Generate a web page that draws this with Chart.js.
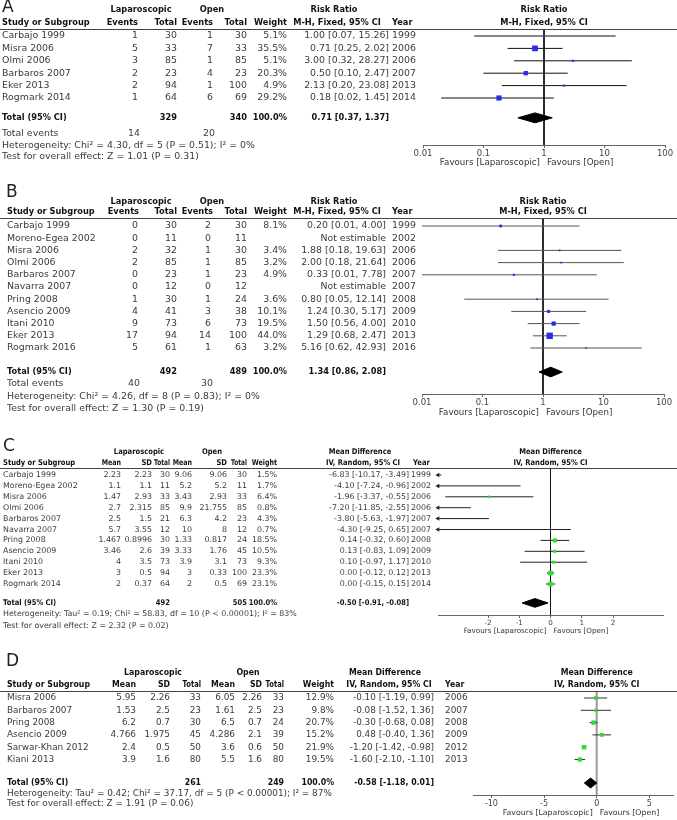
<!DOCTYPE html>
<html>
<head>
<meta charset="utf-8">
<script src="https://cdn.jsdelivr.net/npm/chart.js@4/dist/chart.umd.min.js"></script>
<style>
  body { margin: 0; background: #fff; width: 677px; height: 820px; position: relative; overflow: hidden; }
  canvas { position: absolute; left: 0; }
</style>
</head>
<body>
<canvas id="panelA" width="677" height="172" style="top:0px"></canvas>
<canvas id="panelB" width="677" height="246" style="top:178px"></canvas>
<canvas id="panelC" width="677" height="200" style="top:436px"></canvas>
<canvas id="panelD" width="677" height="170" style="top:650px"></canvas>
<script>
// ---- A: 위험비 (Risk Ratio, M-H fixed) ----
const aStudies = ['Carbajo 1999', 'Misra 2006', 'Olmi 2006', 'Barbaros 2007', 'Eker 2013', 'Rogmark 2014']
const aLapEvents = [1, 5, 3, 2, 2, 1]
const aLapTotal = [30, 33, 85, 23, 94, 64]
const aOpenEvents = [1, 7, 1, 4, 1, 6]
const aOpenTotal = [30, 33, 85, 23, 100, 69]
const aWeight = [5.1, 35.5, 5.1, 20.3, 4.9, 29.2]
const aEst = [1.00, 0.71, 3.00, 0.50, 2.13, 0.18]
const aLo = [0.07, 0.25, 0.32, 0.10, 0.20, 0.02]
const aHi = [15.26, 2.02, 28.27, 2.47, 23.08, 1.45]
const aYear = [1999, 2006, 2006, 2007, 2013, 2014]
const aTotals = [329, 340]
const aTotalEvents = [14, 20]
const aPooled = [0.71, 0.37, 1.37]
const aHetero = 'Heterogeneity: Chi² = 4.30, df = 5 (P = 0.51); I² = 0%'
const aTest = 'Test for overall effect: Z = 1.01 (P = 0.31)'

// ---- B ----
const bStudies = ['Carbajo 1999', 'Moreno-Egea 2002', 'Misra 2006', 'Olmi 2006', 'Barbaros 2007', 'Navarra 2007',
  'Pring 2008', 'Asencio 2009', 'Itani 2010', 'Eker 2013', 'Rogmark 2016']
const bLapEvents = [0, 0, 2, 2, 0, 0, 1, 4, 9, 17, 5]
const bLapTotal = [30, 11, 32, 85, 23, 12, 30, 41, 73, 94, 61]
const bOpenEvents = [2, 0, 1, 1, 1, 0, 1, 3, 6, 14, 1]
const bOpenTotal = [30, 11, 30, 85, 23, 12, 24, 38, 73, 100, 63]
const bWeight = [8.1, null, 3.4, 3.2, 4.9, null, 3.6, 10.1, 19.5, 44.0, 3.2]
const bEst = [0.20, null, 1.88, 2.00, 0.33, null, 0.80, 1.24, 1.50, 1.29, 5.16]
const bLo = [0.01, null, 0.18, 0.18, 0.01, null, 0.05, 0.30, 0.56, 0.68, 0.62]
const bHi = [4.00, null, 19.63, 21.64, 7.78, null, 12.14, 5.17, 4.00, 2.47, 42.93]
const bYear = [1999, 2002, 2006, 2006, 2007, 2007, 2008, 2009, 2010, 2013, 2016]
const bTotals = [492, 489]
const bTotalEvents = [40, 30]
const bPooled = [1.34, 0.86, 2.08]
const bHetero = 'Heterogeneity: Chi² = 4.26, df = 8 (P = 0.83); I² = 0%'
const bTest = 'Test for overall effect: Z = 1.30 (P = 0.19)'

const rrTicks = [0.01, 0.1, 1, 10, 100]

// ---- C: 평균차 (Mean Difference, IV random) ----
const cStudies = ['Carbajo 1999', 'Moreno-Egea 2002', 'Misra 2006', 'Olmi 2006', 'Barbaros 2007', 'Navarra 2007',
  'Pring 2008', 'Asencio 2009', 'Itani 2010', 'Eker 2013', 'Rogmark 2014']
const cLapMean = [2.23, 1.1, 1.47, 2.7, 2.5, 5.7, 1.467, 3.46, 4, 3, 2]
const cLapSD = [2.23, 1.1, 2.93, 2.315, 1.5, 3.55, 0.8996, 2.6, 3.5, 0.5, 0.37]
const cLapTotal = [30, 11, 33, 85, 21, 12, 30, 39, 73, 94, 64]
const cOpenMean = [9.06, 5.2, 3.43, 9.9, 6.3, 10, 1.33, 3.33, 3.9, 3, 2]
const cOpenSD = [9.06, 5.2, 2.93, 21.755, 4.2, 8, 0.817, 1.76, 3.1, 0.33, 0.5]
const cOpenTotal = [30, 11, 33, 85, 23, 12, 24, 45, 73, 100, 69]
const cWeight = [1.5, 1.7, 6.4, 0.8, 4.3, 0.7, 18.5, 10.5, 9.3, 23.3, 23.1]
const cEst = [-6.83, -4.10, -1.96, -7.20, -3.80, -4.30, 0.14, 0.13, 0.10, 0.00, 0.00]
const cLo = [-10.17, -7.24, -3.37, -11.85, -5.63, -9.25, -0.32, -0.83, -0.97, -0.12, -0.15]
const cHi = [-3.49, -0.96, -0.55, -2.55, -1.97, 0.65, 0.60, 1.09, 1.17, 0.12, 0.15]
const cYear = [1999, 2002, 2006, 2006, 2007, 2007, 2008, 2009, 2010, 2013, 2014]
const cTotals = [492, 505]
const cPooled = [-0.50, -0.91, -0.08]
const cHetero = 'Heterogeneity: Tau² = 0.19; Chi² = 58.83, df = 10 (P < 0.00001); I² = 83%'
const cTest = 'Test for overall effect: Z = 2.32 (P = 0.02)'
const cTicks = [-2, -1, 0, 1, 2]

// ---- D ----
const dStudies = ['Misra 2006', 'Barbaros 2007', 'Pring 2008', 'Asencio 2009', 'Sarwar-Khan 2012', 'Kiani 2013']
const dLapMean = [5.95, 1.53, 6.2, 4.766, 2.4, 3.9]
const dLapSD = [2.26, 2.5, 0.7, 1.975, 0.5, 1.6]
const dLapTotal = [33, 23, 30, 45, 50, 80]
const dOpenMean = [6.05, 1.61, 6.5, 4.286, 3.6, 5.5]
const dOpenSD = [2.26, 2.5, 0.7, 2.1, 0.6, 1.6]
const dOpenTotal = [33, 23, 24, 39, 50, 80]
const dWeight = [12.9, 9.8, 20.7, 15.2, 21.9, 19.5]
const dEst = [-0.10, -0.08, -0.30, 0.48, -1.20, -1.60]
const dLo = [-1.19, -1.52, -0.68, -0.40, -1.42, -2.10]
const dHi = [0.99, 1.36, 0.08, 1.36, -0.98, -1.10]
const dYear = [2006, 2007, 2008, 2009, 2012, 2013]
const dTotals = [261, 249]
const dPooled = [-0.58, -1.18, 0.01]
const dHetero = 'Heterogeneity: Tau² = 0.42; Chi² = 37.17, df = 5 (P < 0.00001); I² = 87%'
const dTest = 'Test for overall effect: Z = 1.91 (P = 0.06)'
const dTicks = [-10, -5, 0, 5]

const FONT = '"DejaVu Sans", Verdana, sans-serif'
const W = 677
Chart.defaults.font.family = FONT

const f2 = v => v.toFixed(2)
const ciText = (e, lo, hi) => `${f2(e)} [${f2(lo)}, ${f2(hi)}]`
const pct = w => w.toFixed(1) + '%'

// 굵은 글씨는 원본 폰트보다 넓어서 가로로 조금 줄여서 그림
function txt(ctx, s, x, y, align, size, bold, color, squeeze) {
  const k = squeeze || 1
  ctx.font = `${bold ? 'bold ' : ''}${size}px ${FONT}`
  ctx.textAlign = align
  ctx.fillStyle = color || (bold ? '#111' : '#3b3b3b')
  ctx.save()
  ctx.translate(x, y)
  ctx.scale(k, 1)
  ctx.fillText(String(s), 0, 0)
  ctx.restore()
}

// 표 부분(텍스트)은 y 스케일을 기준으로 그림 → 행 위치가 마커와 맞음
function drawTable(chart, p) {
  const ctx = chart.ctx
  const yAt = v => chart.scales.y.getPixelForValue(v)
  const refX = chart.scales.x.getPixelForValue(p.ref)
  const area = chart.chartArea
  const hb = (s, x, row, al, k) => txt(ctx, s, x, yAt(row), al, p.fb, true, null, k || p.kb)
  ctx.save()
  ctx.textBaseline = 'middle'
  txt(ctx, p.letter, p.letterX, yAt(p.letterRow), 'left', 17, false, '#222')
  p.head1.forEach(([s, x, al, k]) => hb(s, x, p.head1Row, al, k))
  p.head2.forEach(([s, x, al, k]) => hb(s, x, p.head2Row, al, k))
  hb(p.forestHead[0], refX, p.head1Row, 'center')
  hb(p.forestHead[1], refX, p.head2Row, 'center')

  ctx.strokeStyle = '#444'
  ctx.lineWidth = 1.2
  ctx.beginPath()
  ctx.moveTo(0, area.top + 0.5)
  ctx.lineTo(W, area.top + 0.5)
  ctx.stroke()

  p.rows.forEach((cells, i) => {
    cells.forEach((c, j) => txt(ctx, c, p.cols[j][0], yAt(i), p.cols[j][1], p.fs, false))
  })
  p.totalCells.forEach((c, j) => {
    if (c !== '') hb(c, p.cols[j][0], p.totalRow, p.cols[j][1])
  })
  if (p.eventsCells) {
    p.eventsCells.forEach((c, j) => {
      if (c !== '') txt(ctx, c, p.cols[j][0] + (j ? 2 : 0), yAt(p.eventsRow), p.cols[j][1], p.fs, false)
    })
  }
  p.footers.forEach(([s, row]) => txt(ctx, s, p.cols[0][0], yAt(row), 'left', p.fs, false))

  const fy = area.bottom + p.favDy
  txt(ctx, 'Favours [Laparoscopic]', refX - 4, fy, 'right', p.ff, false, '#333')
  txt(ctx, 'Favours [Open]', refX + 3, fy, 'left', p.ff, false, '#333')
  ctx.restore()
}

function buildPanel(id, p) {
  const canvas = document.getElementById(id)
  const H = canvas.height
  const top = p.top
  const chartTop = p.ruleY - top
  const chartBottom = p.axisY - top
  const y0 = p.firstRowY - top
  const yMin = (chartTop - y0) / p.step
  const yMax = (chartBottom - y0) / p.step
  const clipX = { left: 0, right: 0, top: false, bottom: false }

  const datasets = []
  // 점추정 사각형 (가중치에 비례)
  datasets.push({
    type: 'line', showLine: false,
    data: p.est.map((e, i) => e === null ? null : { x: e, y: i, w: p.weight[i] }).filter(Boolean),
    pointStyle: 'rect',
    pointRadius: c => c.raw ? Math.sqrt(c.raw.w) * 0.68 : 2,
    backgroundColor: p.markColor, borderWidth: 0, clip: clipX,
  })
  // 범위 밖 신뢰구간 화살표
  const arrows = []
  p.est.forEach((e, i) => {
    if (e !== null && p.lo[i] < p.xMin) arrows.push({ x: p.xMin, y: i })
  })
  if (arrows.length) {
    datasets.push({
      type: 'line', showLine: false, data: arrows,
      pointStyle: 'triangle', rotation: -90, pointRadius: 2.6,
      backgroundColor: p.lineColor, borderColor: p.lineColor, borderWidth: 0, clip: false,
    })
  }
  // 신뢰구간
  p.est.forEach((e, i) => {
    if (e === null) return
    datasets.push({
      type: 'line', data: [{ x: p.lo[i], y: i }, { x: p.hi[i], y: i }],
      borderColor: p.lineColor, borderWidth: 1, pointRadius: 0, clip: clipX,
    })
  })
  // 합계 다이아몬드
  const [pe, pl, ph] = p.pooled
  const tr = p.totalRow
  datasets.push({
    type: 'line',
    data: [{ x: pl, y: tr }, { x: pe, y: tr - 0.4 }, { x: ph, y: tr }, { x: pe, y: tr + 0.4 }, { x: pl, y: tr }],
    borderColor: '#000', backgroundColor: '#000', borderWidth: 1, pointRadius: 0, fill: 'shape', clip: false,
  })
  // 기준선 (효과 없음)
  datasets.push({
    type: 'line', data: [{ x: p.ref, y: yMin }, { x: p.ref, y: yMax }],
    borderColor: p.refColor, borderWidth: p.refWidth, pointRadius: 0, clip: false,
  })

  return new Chart(canvas, {
    type: 'line',
    data: { datasets },
    options: {
      responsive: false,
      devicePixelRatio: 1,
      animation: false,
      events: [],
      layout: { padding: { top: chartTop, left: p.axLeft, right: W - p.axRight, bottom: 0 } },
      plugins: { legend: { display: false }, tooltip: { enabled: false } },
      scales: {
        x: {
          type: p.xType, min: p.xMin, max: p.xMax, position: 'bottom',
          afterBuildTicks: s => { s.ticks = p.ticks.map(v => ({ value: v })) },
          afterFit: s => { s.height = H - chartBottom },
          border: { display: true, color: '#666', width: 1 },
          grid: { display: true, drawOnChartArea: false, drawTicks: true, tickLength: 3, color: '#666' },
          ticks: {
            color: '#444', font: { size: p.tickSize }, padding: 1,
            maxRotation: 0, autoSkip: false, callback: v => String(v),
          },
        },
        y: { type: 'linear', display: false, reverse: true, min: yMin, max: yMax },
      },
    },
    plugins: [{ id: 'forestTable', afterDraw: chart => drawTable(chart, p) }],
  })
}

// ---- 패널 A ----
buildPanel('panelA', {
  top: 0, ruleY: 29, axisY: 145, firstRowY: 36, step: 12.4,
  axLeft: 423, axRight: 665, xType: 'logarithmic', xMin: 0.01, xMax: 100, ref: 1, ticks: rrTicks,
  est: aEst, lo: aLo, hi: aHi, weight: aWeight, pooled: aPooled,
  markColor: '#2b2bef', lineColor: '#111', refColor: '#111', refWidth: 1,
  letter: 'A', letterX: 2, letterRow: -2.3, head1Row: -2.1, head2Row: -1.05,
  totalRow: 6.6, eventsRow: 7.9, favDy: 18,
  fs: 9.4, fb: 9.4, kb: 0.88, ff: 8.7, tickSize: 8.5,
  cols: [[2, 'left'], [138, 'right'], [177, 'right'], [213, 'right'], [247, 'right'], [287, 'right'], [389, 'right'], [392, 'left']],
  head1: [['Laparoscopic', 141, 'center'], ['Open', 212, 'center'], ['Risk Ratio', 334, 'center']],
  head2: [['Study or Subgroup', 2, 'left'], ['Events', 138, 'right'], ['Total', 177, 'right'], ['Events', 213, 'right'],
    ['Total', 247, 'right'], ['Weight', 287, 'right'], ['M-H, Fixed, 95% CI', 337, 'center'], ['Year', 392, 'left']],
  forestHead: ['Risk Ratio', 'M-H, Fixed, 95% CI'],
  rows: aStudies.map((s, i) => [s, aLapEvents[i], aLapTotal[i], aOpenEvents[i], aOpenTotal[i], pct(aWeight[i]),
    ciText(aEst[i], aLo[i], aHi[i]), aYear[i]]),
  totalCells: ['Total (95% CI)', '', aTotals[0], '', aTotals[1], '100.0%', ciText(...aPooled), ''],
  eventsCells: ['Total events', aTotalEvents[0], '', aTotalEvents[1], '', '', '', ''],
  footers: [[aHetero, 8.87], [aTest, 9.76]],
})

// ---- 패널 B ----
buildPanel('panelB', {
  top: 178, ruleY: 218, axisY: 394, firstRowY: 226, step: 12.2,
  axLeft: 422, axRight: 664, xType: 'logarithmic', xMin: 0.01, xMax: 100, ref: 1, ticks: rrTicks,
  est: bEst, lo: bLo, hi: bHi, weight: bWeight, pooled: bPooled,
  markColor: '#2b2bef', lineColor: '#555', refColor: '#111', refWidth: 1,
  letter: 'B', letterX: 6, letterRow: -2.7, head1Row: -1.97, head2Row: -1.15,
  totalRow: 11.97, eventsRow: 12.95, favDy: 19,
  fs: 9.4, fb: 9.4, kb: 0.88, ff: 8.7, tickSize: 8.5,
  cols: [[7, 'left'], [138, 'right'], [177, 'right'], [211, 'right'], [247, 'right'], [287, 'right'], [386, 'right'], [392, 'left']],
  head1: [['Laparoscopic', 141, 'center'], ['Open', 212, 'center'], ['Risk Ratio', 334, 'center']],
  head2: [['Study or Subgroup', 7, 'left'], ['Events', 139, 'right'], ['Total', 177, 'right'], ['Events', 213, 'right'],
    ['Total', 247, 'right'], ['Weight', 287, 'right'], ['M-H, Fixed, 95% CI', 337, 'center'], ['Year', 392, 'left']],
  forestHead: ['Risk Ratio', 'M-H, Fixed, 95% CI'],
  rows: bStudies.map((s, i) => [s, bLapEvents[i], bLapTotal[i], bOpenEvents[i], bOpenTotal[i],
    bWeight[i] === null ? '' : pct(bWeight[i]),
    bEst[i] === null ? 'Not estimable' : ciText(bEst[i], bLo[i], bHi[i]), bYear[i]]),
  totalCells: ['Total (95% CI)', '', bTotals[0], '', bTotals[1], '100.0%', ciText(...bPooled), ''],
  eventsCells: ['Total events', bTotalEvents[0], '', bTotalEvents[1], '', '', '', ''],
  footers: [[bHetero, 14.0], [bTest, 15.0]],
})

// ---- 패널 C ----
buildPanel('panelC', {
  top: 436, ruleY: 468, axisY: 615, firstRowY: 475, step: 10.9,
  axLeft: 438, axRight: 663, xType: 'linear', xMin: -3.6, xMax: 3.6, ref: 0, ticks: cTicks,
  est: cEst, lo: cLo, hi: cHi, weight: cWeight, pooled: cPooled,
  markColor: '#2fdc2f', lineColor: '#222', refColor: '#111', refWidth: 1,
  letter: 'C', letterX: 3, letterRow: -2.57, head1Row: -2.11, head2Row: -1.1,
  totalRow: 11.74, favDy: 16,
  fs: 7.9, fb: 7.9, kb: 0.86, ff: 7.2, tickSize: 7.2,
  cols: [[3, 'left'], [121, 'right'], [152, 'right'], [170, 'right'], [192, 'right'], [227, 'right'], [247, 'right'],
    [277, 'right'], [409, 'right'], [411, 'left']],
  head1: [['Laparoscopic', 139, 'center'], ['Open', 212, 'center'], ['Mean Difference', 360, 'center']],
  head2: [['Study or Subgroup', 3, 'left'], ['Mean', 121, 'right', 0.8], ['SD', 152, 'right'], ['Total', 170, 'right', 0.74],
    ['Mean', 192, 'right', 0.8], ['SD', 227, 'right'], ['Total', 247, 'right', 0.74], ['Weight', 277, 'right', 0.8],
    ['IV, Random, 95% CI', 363, 'center'], ['Year', 413, 'left']],
  forestHead: ['Mean Difference', 'IV, Random, 95% CI'],
  rows: cStudies.map((s, i) => [s, cLapMean[i], cLapSD[i], cLapTotal[i], cOpenMean[i], cOpenSD[i], cOpenTotal[i],
    pct(cWeight[i]), ciText(cEst[i], cLo[i], cHi[i]), cYear[i]]),
  totalCells: ['Total (95% CI)', '', '', cTotals[0], '', '', cTotals[1], '100.0%', ciText(...cPooled), ''],
  footers: [[cHetero, 12.75], [cTest, 13.85]],
})

// ---- 패널 D ----
buildPanel('panelD', {
  top: 650, ruleY: 691, axisY: 795, firstRowY: 698, step: 12.3,
  axLeft: 473, axRight: 677, xType: 'linear', xMin: -11.75, xMax: 7.25, ref: 0, ticks: dTicks,
  est: dEst, lo: dLo, hi: dHi, weight: dWeight, pooled: dPooled,
  markColor: '#2fdc2f', lineColor: '#333', refColor: '#999', refWidth: 2,
  letter: 'D', letterX: 6, letterRow: -3.0, head1Row: -2.03, head2Row: -1.06,
  totalRow: 6.91, favDy: 18,
  fs: 8.9, fb: 8.9, kb: 0.88, ff: 7.8, tickSize: 8,
  cols: [[7, 'left'], [136, 'right'], [170, 'right'], [201, 'right'], [235, 'right'], [262, 'right'], [284, 'right'],
    [334, 'right'], [434, 'right'], [445, 'left']],
  head1: [['Laparoscopic', 153, 'center'], ['Open', 248, 'center'], ['Mean Difference', 385, 'center']],
  head2: [['Study or Subgroup', 7, 'left'], ['Mean', 136, 'right'], ['SD', 170, 'right'], ['Total', 201, 'right', 0.76],
    ['Mean', 235, 'right'], ['SD', 262, 'right'], ['Total', 284, 'right', 0.76], ['Weight', 334, 'right'],
    ['IV, Random, 95% CI', 389, 'center'], ['Year', 445, 'left']],
  forestHead: ['Mean Difference', 'IV, Random, 95% CI'],
  rows: dStudies.map((s, i) => [s, dLapMean[i], dLapSD[i], dLapTotal[i], dOpenMean[i], dOpenSD[i], dOpenTotal[i],
    pct(dWeight[i]), ciText(dEst[i], dLo[i], dHi[i]), dYear[i]]),
  totalCells: ['Total (95% CI)', '', '', dTotals[0], '', '', dTotals[1], '100.0%', ciText(...dPooled), ''],
  footers: [[dHetero, 7.8], [dTest, 8.6]],
})
</script>
</body>
</html>
